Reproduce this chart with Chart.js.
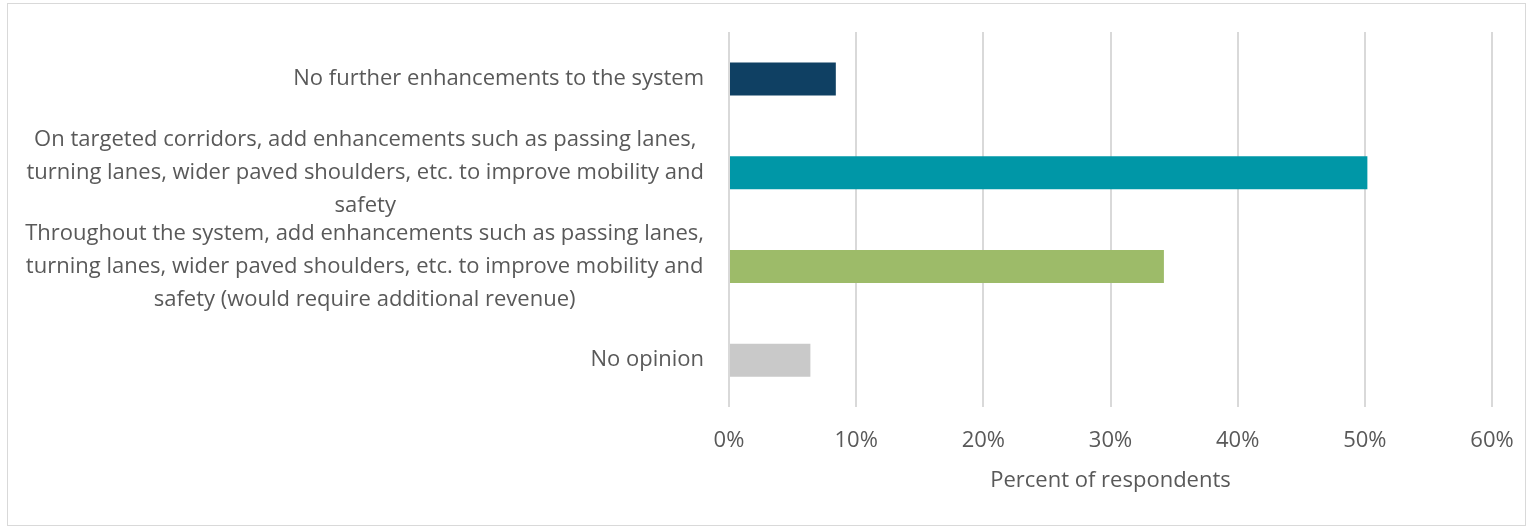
<!DOCTYPE html>
<html>
<head>
<meta charset="utf-8">
<script src="https://cdn.jsdelivr.net/npm/chart.js@4.4.1/dist/chart.umd.min.js"></script>
<style>
  html, body { margin: 0; padding: 0; background: #fff; }
  #wrap { position: relative; width: 1528px; height: 527px; }
</style>
</head>
<body>
<div id="wrap"><canvas id="myChart" width="1528" height="527"></canvas></div>
<script>
// survey answers, one entry per line of the label
var categories = [
  ["No further enhancements to the system"],
  ["On targeted corridors, add enhancements such as passing lanes,",
   "turning lanes, wider paved shoulders, etc. to improve mobility and",
   "safety"],
  ["Throughout the system, add enhancements such as passing lanes,",
   "turning lanes, wider paved shoulders, etc. to improve mobility and",
   "safety (would require additional revenue)"],
  ["No opinion"]
];
var percents = [8.4, 50.2, 34.2, 6.4];
var barColors = ["#0f4063", "#0097a7", "#9dbb69", "#c9c9c9"];
var xTicks = [0, 10, 20, 30, 40, 50, 60];

var textColor = "#595959";
var fontFamily = "'Open Sans', sans-serif";
var fontSize = 22;

// outer frame around the whole chart
var framePlugin = {
  id: 'frame',
  beforeDraw: function (chart) {
    var ctx = chart.ctx;
    ctx.save();
    ctx.fillStyle = "#fff";
    ctx.fillRect(0, 0, chart.width, chart.height);
    ctx.strokeStyle = "#d9d9d9";
    ctx.lineWidth = 1;
    ctx.strokeRect(7.5, 3.5, 1518, 522);
    ctx.restore();
  }
};

// category labels: each block is centred on itself and right-aligned to the axis
var catLabelPlugin = {
  id: 'catLabels',
  afterDraw: function (chart) {
    var ctx = chart.ctx;
    var yScale = chart.scales.y;
    var rightEdge = chart.chartArea.left - 25;
    var lineH = 33;
    ctx.save();
    ctx.font = fontSize + "px " + fontFamily;
    ctx.fillStyle = textColor;
    ctx.textAlign = "center";
    ctx.textBaseline = "middle";
    categories.forEach(function (lines, i) {
      var widest = 0;
      lines.forEach(function (l) { widest = Math.max(widest, ctx.measureText(l).width); });
      var cx = rightEdge - widest / 2;
      var cy = yScale.getPixelForTick(i);
      var top = cy - (lines.length - 1) * lineH / 2;
      lines.forEach(function (l, j) { ctx.fillText(l, cx, top + j * lineH); });
    });
    ctx.restore();
  }
};

var myChart = new Chart(document.getElementById("myChart"), {
  type: 'bar',
  data: {
    labels: categories,
    datasets: [{
      label: 'Percent of respondents',
      data: percents,
      backgroundColor: barColors,
      borderWidth: 0,
      categoryPercentage: 1,
      barPercentage: 0.352
    }]
  },
  plugins: [framePlugin, catLabelPlugin],
  options: {
    indexAxis: 'y',
    responsive: false,
    animation: false,
    events: [],
    layout: { padding: { top: 32, right: 36, bottom: 0, left: 0 } },
    plugins: {
      legend: { display: false },
      tooltip: { enabled: false }
    },
    scales: {
      x: {
        min: 0,
        max: 60,
        afterBuildTicks: function (scale) {
          scale.ticks = xTicks.map(function (v) { return { value: v }; });
        },
        afterFit: function (scale) {
          scale.height = 120;
          // end labels fit inside the layout padding already
          scale.paddingLeft = 0;
          scale.paddingRight = 0;
        },
        grid: { color: "#d9d9d9", lineWidth: 2, drawTicks: false },
        border: { display: false },
        ticks: {
          padding: 21,
          color: textColor,
          font: { family: fontFamily, size: fontSize },
          callback: function (v) { return v + '%'; }
        },
        title: {
          display: true,
          text: 'Percent of respondents',
          color: textColor,
          font: { family: fontFamily, size: fontSize },
          padding: { top: 0, bottom: 33 }
        }
      },
      y: {
        afterFit: function (scale) { scale.width = 729; },
        grid: { display: false },
        border: { display: false },
        ticks: { display: false }
      }
    }
  }
});
</script>
</body>
</html>
